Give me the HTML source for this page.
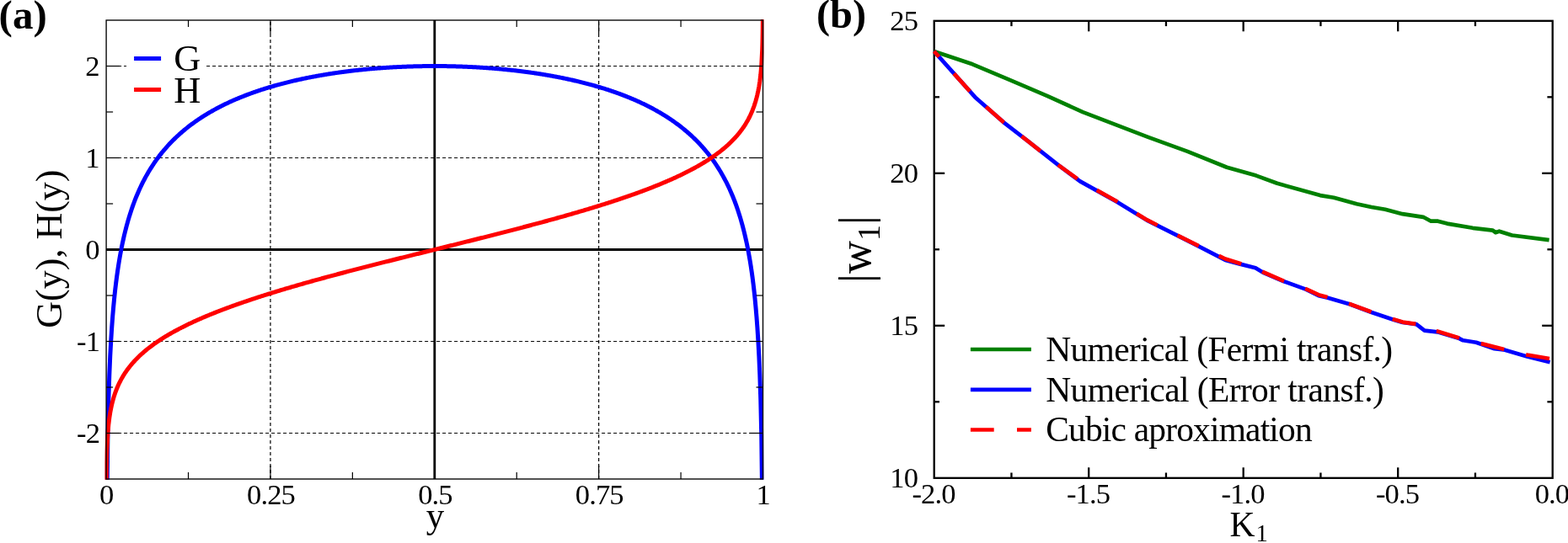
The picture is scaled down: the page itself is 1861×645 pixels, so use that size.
<!DOCTYPE html>
<html><head><meta charset="utf-8"><title>Figure</title>
<style>html,body{margin:0;padding:0;background:#fff;overflow:hidden}body{width:1861px;height:645px}</style>
</head><body>
<svg width="1861" height="645" viewBox="0 0 1861 645" style="display:block" font-family='"Liberation Serif", serif'>
<rect x="0" y="0" width="1861" height="645" fill="#fff"/>
<defs>
<clipPath id="cl"><rect x="124.50" y="23.00" width="782.00" height="546.80"/></clipPath>
</defs>
<g stroke="#000" stroke-width="1.2" stroke-dasharray="4 3" fill="none">
<line x1="320.95" y1="569.0" x2="320.95" y2="24.0"/>
<line x1="710.65" y1="569.0" x2="710.65" y2="24.0"/>
<line x1="126.1" y1="514.50" x2="905.5" y2="514.50"/>
<line x1="126.1" y1="405.50" x2="905.5" y2="405.50"/>
<line x1="126.1" y1="187.50" x2="905.5" y2="187.50"/>
<line x1="126.1" y1="78.50" x2="905.5" y2="78.50"/>
</g>
<g stroke="#000" stroke-width="2.8" fill="none">
<line x1="515.80" y1="24.0" x2="515.80" y2="569.0"/>
<line x1="126.1" y1="296.50" x2="905.5" y2="296.50"/>
</g>
<rect x="150" y="50" width="95" height="76" fill="#fff"/>
<g clip-path="url(#cl)" fill="none" stroke-width="5" stroke-linejoin="round">
<path d="M126.10,732.50 L126.11,732.50 L126.12,732.50 L126.13,732.50 L126.14,732.50 L126.15,732.50 L126.16,732.50 L126.18,732.50 L126.19,732.50 L126.21,732.50 L126.24,732.50 L126.27,732.50 L126.30,732.50 L126.34,715.93 L126.40,696.33 L126.46,676.76 L126.54,657.24 L126.63,637.76 L126.74,618.33 L126.88,598.95 L127.85,518.37 L128.83,474.93 L129.80,445.14 L130.77,422.50 L131.75,404.27 L132.72,389.02 L133.69,375.92 L134.67,364.46 L135.64,354.27 L136.61,345.11 L137.59,336.80 L138.56,329.18 L139.54,322.17 L140.51,315.66 L141.48,309.60 L142.46,303.93 L143.43,298.61 L144.40,293.59 L145.38,288.84 L146.35,284.35 L147.32,280.07 L148.30,276.00 L149.27,272.11 L150.24,268.39 L151.22,264.83 L152.19,261.41 L153.16,258.13 L154.14,254.97 L155.11,251.93 L156.08,248.99 L157.06,246.16 L158.03,243.42 L159.01,240.76 L159.98,238.20 L160.95,235.71 L161.93,233.29 L162.90,230.95 L163.87,228.67 L164.85,226.45 L165.82,224.30 L166.79,222.20 L167.77,220.15 L168.74,218.16 L169.71,216.22 L170.69,214.32 L171.66,212.47 L172.63,210.66 L173.61,208.90 L174.58,207.17 L175.56,205.48 L176.53,203.83 L177.50,202.21 L178.48,200.63 L179.45,199.08 L180.42,197.56 L181.40,196.07 L182.37,194.61 L183.34,193.18 L184.32,191.78 L185.29,190.40 L186.26,189.05 L187.24,187.72 L188.21,186.41 L189.18,185.13 L190.16,183.87 L191.13,182.64 L192.11,181.42 L193.08,180.23 L194.05,179.05 L195.03,177.89 L196.00,176.76 L196.97,175.64 L197.95,174.53 L198.92,173.45 L199.89,172.38 L200.87,171.33 L201.84,170.29 L202.81,169.27 L203.79,168.27 L204.76,167.28 L205.73,166.30 L206.71,165.34 L207.68,164.39 L208.65,163.45 L209.63,162.53 L210.60,161.62 L211.58,160.72 L212.55,159.84 L213.52,158.97 L214.50,158.10 L215.47,157.25 L216.44,156.41 L217.42,155.59 L218.39,154.77 L219.36,153.96 L220.34,153.16 L221.31,152.38 L222.28,151.60 L223.26,150.83 L224.23,150.07 L225.20,149.32 L226.18,148.58 L227.15,147.85 L228.13,147.13 L229.10,146.41 L230.07,145.71 L231.05,145.01 L232.02,144.32 L232.99,143.64 L233.97,142.96 L234.94,142.29 L235.91,141.63 L236.89,140.98 L237.86,140.34 L238.83,139.70 L239.81,139.07 L240.78,138.45 L241.75,137.83 L242.73,137.22 L243.70,136.62 L244.68,136.02 L245.65,135.43 L246.62,134.84 L247.60,134.26 L248.57,133.69 L249.54,133.12 L250.52,132.56 L251.49,132.01 L252.46,131.46 L253.44,130.91 L254.41,130.37 L255.38,129.84 L256.36,129.31 L257.33,128.79 L258.30,128.27 L259.28,127.76 L260.25,127.25 L261.22,126.75 L262.20,126.25 L263.17,125.76 L264.15,125.27 L265.12,124.79 L266.09,124.31 L267.07,123.84 L268.04,123.37 L269.01,122.90 L269.99,122.44 L270.96,121.99 L271.93,121.53 L272.91,121.09 L273.88,120.64 L274.85,120.20 L275.83,119.77 L276.80,119.33 L277.77,118.91 L278.75,118.48 L279.72,118.06 L280.70,117.65 L281.67,117.23 L282.64,116.83 L283.62,116.42 L284.59,116.02 L285.56,115.62 L286.54,115.23 L287.51,114.84 L288.48,114.45 L289.46,114.07 L290.43,113.69 L291.40,113.31 L292.38,112.94 L293.35,112.56 L294.32,112.20 L295.30,111.83 L296.27,111.47 L297.25,111.12 L298.22,110.76 L299.19,110.41 L300.17,110.06 L301.14,109.72 L302.11,109.37 L303.09,109.03 L304.06,108.70 L305.03,108.36 L306.01,108.03 L306.98,107.70 L307.95,107.38 L308.93,107.06 L309.90,106.74 L310.87,106.42 L311.85,106.11 L312.82,105.79 L313.79,105.49 L314.77,105.18 L315.74,104.88 L316.72,104.57 L317.69,104.28 L318.66,103.98 L319.64,103.69 L320.61,103.40 L321.58,103.11 L322.56,102.82 L323.53,102.54 L324.50,102.26 L325.48,101.98 L326.45,101.70 L327.42,101.43 L328.40,101.15 L329.37,100.88 L330.34,100.62 L331.32,100.35 L332.29,100.09 L333.27,99.83 L334.24,99.57 L335.21,99.31 L336.19,99.06 L337.16,98.81 L338.13,98.56 L339.11,98.31 L340.08,98.06 L341.05,97.82 L342.03,97.58 L343.00,97.34 L343.97,97.10 L344.95,96.87 L345.92,96.63 L346.89,96.40 L347.87,96.17 L348.84,95.94 L349.82,95.72 L350.79,95.49 L351.76,95.27 L352.74,95.05 L353.71,94.83 L354.68,94.62 L355.66,94.40 L356.63,94.19 L357.60,93.98 L358.58,93.77 L359.55,93.57 L360.52,93.36 L361.50,93.16 L362.47,92.96 L363.44,92.76 L364.42,92.56 L365.39,92.36 L366.36,92.17 L367.34,91.97 L368.31,91.78 L369.29,91.59 L370.26,91.41 L371.23,91.22 L372.21,91.03 L373.18,90.85 L374.15,90.67 L375.13,90.49 L376.10,90.31 L377.07,90.14 L378.05,89.96 L379.02,89.79 L379.99,89.62 L380.97,89.45 L381.94,89.28 L382.91,89.11 L383.89,88.95 L384.86,88.78 L385.84,88.62 L386.81,88.46 L387.78,88.30 L388.76,88.14 L389.73,87.99 L390.70,87.83 L391.68,87.68 L392.65,87.53 L393.62,87.38 L394.60,87.23 L395.57,87.08 L396.54,86.94 L397.52,86.79 L398.49,86.65 L399.46,86.51 L400.44,86.37 L401.41,86.23 L402.39,86.09 L403.36,85.96 L404.33,85.82 L405.31,85.69 L406.28,85.56 L407.25,85.43 L408.23,85.30 L409.20,85.17 L410.17,85.04 L411.15,84.92 L412.12,84.80 L413.09,84.67 L414.07,84.55 L415.04,84.43 L416.01,84.31 L416.99,84.20 L417.96,84.08 L418.93,83.97 L419.91,83.85 L420.88,83.74 L421.86,83.63 L422.83,83.52 L423.80,83.42 L424.78,83.31 L425.75,83.20 L426.72,83.10 L427.70,83.00 L428.67,82.90 L429.64,82.80 L430.62,82.70 L431.59,82.60 L432.56,82.50 L433.54,82.41 L434.51,82.31 L435.48,82.22 L436.46,82.13 L437.43,82.04 L438.41,81.95 L439.38,81.86 L440.35,81.77 L441.33,81.69 L442.30,81.60 L443.27,81.52 L444.25,81.44 L445.22,81.36 L446.19,81.28 L447.17,81.20 L448.14,81.12 L449.11,81.05 L450.09,80.97 L451.06,80.90 L452.03,80.82 L453.01,80.75 L453.98,80.68 L454.96,80.61 L455.93,80.55 L456.90,80.48 L457.88,80.41 L458.85,80.35 L459.82,80.29 L460.80,80.22 L461.77,80.16 L462.74,80.10 L463.72,80.04 L464.69,79.99 L465.66,79.93 L466.64,79.87 L467.61,79.82 L468.58,79.77 L469.56,79.71 L470.53,79.66 L471.50,79.61 L472.48,79.56 L473.45,79.52 L474.43,79.47 L475.40,79.43 L476.37,79.38 L477.35,79.34 L478.32,79.30 L479.29,79.25 L480.27,79.21 L481.24,79.18 L482.21,79.14 L483.19,79.10 L484.16,79.07 L485.13,79.03 L486.11,79.00 L487.08,78.97 L488.05,78.94 L489.03,78.91 L490.00,78.88 L490.98,78.85 L491.95,78.82 L492.92,78.80 L493.90,78.77 L494.87,78.75 L495.84,78.72 L496.82,78.70 L497.79,78.68 L498.76,78.66 L499.74,78.65 L500.71,78.63 L501.68,78.61 L502.66,78.60 L503.63,78.58 L504.60,78.57 L505.58,78.56 L506.55,78.55 L507.53,78.54 L508.50,78.53 L509.47,78.52 L510.45,78.52 L511.42,78.51 L512.39,78.51 L513.37,78.50 L514.34,78.50 L515.31,78.50 L516.29,78.50 L517.26,78.50 L518.23,78.50 L519.21,78.51 L520.18,78.51 L521.15,78.52 L522.13,78.52 L523.10,78.53 L524.07,78.54 L525.05,78.55 L526.02,78.56 L527.00,78.57 L527.97,78.58 L528.94,78.60 L529.92,78.61 L530.89,78.63 L531.86,78.65 L532.84,78.66 L533.81,78.68 L534.78,78.70 L535.76,78.72 L536.73,78.75 L537.70,78.77 L538.68,78.80 L539.65,78.82 L540.62,78.85 L541.60,78.88 L542.57,78.91 L543.55,78.94 L544.52,78.97 L545.49,79.00 L546.47,79.03 L547.44,79.07 L548.41,79.10 L549.39,79.14 L550.36,79.18 L551.33,79.21 L552.31,79.25 L553.28,79.30 L554.25,79.34 L555.23,79.38 L556.20,79.43 L557.17,79.47 L558.15,79.52 L559.12,79.56 L560.10,79.61 L561.07,79.66 L562.04,79.71 L563.02,79.77 L563.99,79.82 L564.96,79.87 L565.94,79.93 L566.91,79.99 L567.88,80.04 L568.86,80.10 L569.83,80.16 L570.80,80.22 L571.78,80.29 L572.75,80.35 L573.72,80.41 L574.70,80.48 L575.67,80.55 L576.64,80.61 L577.62,80.68 L578.59,80.75 L579.57,80.82 L580.54,80.90 L581.51,80.97 L582.49,81.05 L583.46,81.12 L584.43,81.20 L585.41,81.28 L586.38,81.36 L587.35,81.44 L588.33,81.52 L589.30,81.60 L590.27,81.69 L591.25,81.77 L592.22,81.86 L593.19,81.95 L594.17,82.04 L595.14,82.13 L596.12,82.22 L597.09,82.31 L598.06,82.41 L599.04,82.50 L600.01,82.60 L600.98,82.70 L601.96,82.80 L602.93,82.90 L603.90,83.00 L604.88,83.10 L605.85,83.20 L606.82,83.31 L607.80,83.42 L608.77,83.52 L609.74,83.63 L610.72,83.74 L611.69,83.85 L612.67,83.97 L613.64,84.08 L614.61,84.20 L615.59,84.31 L616.56,84.43 L617.53,84.55 L618.51,84.67 L619.48,84.80 L620.45,84.92 L621.43,85.04 L622.40,85.17 L623.37,85.30 L624.35,85.43 L625.32,85.56 L626.29,85.69 L627.27,85.82 L628.24,85.96 L629.21,86.09 L630.19,86.23 L631.16,86.37 L632.14,86.51 L633.11,86.65 L634.08,86.79 L635.06,86.94 L636.03,87.08 L637.00,87.23 L637.98,87.38 L638.95,87.53 L639.92,87.68 L640.90,87.83 L641.87,87.99 L642.84,88.14 L643.82,88.30 L644.79,88.46 L645.76,88.62 L646.74,88.78 L647.71,88.95 L648.69,89.11 L649.66,89.28 L650.63,89.45 L651.61,89.62 L652.58,89.79 L653.55,89.96 L654.53,90.14 L655.50,90.31 L656.47,90.49 L657.45,90.67 L658.42,90.85 L659.39,91.03 L660.37,91.22 L661.34,91.41 L662.31,91.59 L663.29,91.78 L664.26,91.97 L665.24,92.17 L666.21,92.36 L667.18,92.56 L668.16,92.76 L669.13,92.96 L670.10,93.16 L671.08,93.36 L672.05,93.57 L673.02,93.77 L674.00,93.98 L674.97,94.19 L675.94,94.40 L676.92,94.62 L677.89,94.83 L678.86,95.05 L679.84,95.27 L680.81,95.49 L681.78,95.72 L682.76,95.94 L683.73,96.17 L684.71,96.40 L685.68,96.63 L686.65,96.87 L687.63,97.10 L688.60,97.34 L689.57,97.58 L690.55,97.82 L691.52,98.06 L692.49,98.31 L693.47,98.56 L694.44,98.81 L695.41,99.06 L696.39,99.31 L697.36,99.57 L698.33,99.83 L699.31,100.09 L700.28,100.35 L701.26,100.62 L702.23,100.88 L703.20,101.15 L704.18,101.43 L705.15,101.70 L706.12,101.98 L707.10,102.26 L708.07,102.54 L709.04,102.82 L710.02,103.11 L710.99,103.40 L711.96,103.69 L712.94,103.98 L713.91,104.28 L714.88,104.57 L715.86,104.88 L716.83,105.18 L717.81,105.49 L718.78,105.79 L719.75,106.11 L720.73,106.42 L721.70,106.74 L722.67,107.06 L723.65,107.38 L724.62,107.70 L725.59,108.03 L726.57,108.36 L727.54,108.70 L728.51,109.03 L729.49,109.37 L730.46,109.72 L731.43,110.06 L732.41,110.41 L733.38,110.76 L734.35,111.12 L735.33,111.47 L736.30,111.83 L737.28,112.20 L738.25,112.56 L739.22,112.94 L740.20,113.31 L741.17,113.69 L742.14,114.07 L743.12,114.45 L744.09,114.84 L745.06,115.23 L746.04,115.62 L747.01,116.02 L747.98,116.42 L748.96,116.83 L749.93,117.23 L750.90,117.65 L751.88,118.06 L752.85,118.48 L753.83,118.91 L754.80,119.33 L755.77,119.77 L756.75,120.20 L757.72,120.64 L758.69,121.09 L759.67,121.53 L760.64,121.99 L761.61,122.44 L762.59,122.90 L763.56,123.37 L764.53,123.84 L765.51,124.31 L766.48,124.79 L767.45,125.27 L768.43,125.76 L769.40,126.25 L770.38,126.75 L771.35,127.25 L772.32,127.76 L773.30,128.27 L774.27,128.79 L775.24,129.31 L776.22,129.84 L777.19,130.37 L778.16,130.91 L779.14,131.46 L780.11,132.01 L781.08,132.56 L782.06,133.12 L783.03,133.69 L784.00,134.26 L784.98,134.84 L785.95,135.43 L786.92,136.02 L787.90,136.62 L788.87,137.22 L789.85,137.83 L790.82,138.45 L791.79,139.07 L792.77,139.70 L793.74,140.34 L794.71,140.98 L795.69,141.63 L796.66,142.29 L797.63,142.96 L798.61,143.64 L799.58,144.32 L800.55,145.01 L801.53,145.71 L802.50,146.41 L803.47,147.13 L804.45,147.85 L805.42,148.58 L806.40,149.32 L807.37,150.07 L808.34,150.83 L809.32,151.60 L810.29,152.38 L811.26,153.16 L812.24,153.96 L813.21,154.77 L814.18,155.59 L815.16,156.41 L816.13,157.25 L817.10,158.10 L818.08,158.97 L819.05,159.84 L820.02,160.72 L821.00,161.62 L821.97,162.53 L822.95,163.45 L823.92,164.39 L824.89,165.34 L825.87,166.30 L826.84,167.28 L827.81,168.27 L828.79,169.27 L829.76,170.29 L830.73,171.33 L831.71,172.38 L832.68,173.45 L833.65,174.53 L834.63,175.64 L835.60,176.76 L836.57,177.89 L837.55,179.05 L838.52,180.23 L839.49,181.42 L840.47,182.64 L841.44,183.87 L842.42,185.13 L843.39,186.41 L844.36,187.72 L845.34,189.05 L846.31,190.40 L847.28,191.78 L848.26,193.18 L849.23,194.61 L850.20,196.07 L851.18,197.56 L852.15,199.08 L853.12,200.63 L854.10,202.21 L855.07,203.83 L856.04,205.48 L857.02,207.17 L857.99,208.90 L858.97,210.66 L859.94,212.47 L860.91,214.32 L861.89,216.22 L862.86,218.16 L863.83,220.15 L864.81,222.20 L865.78,224.30 L866.75,226.45 L867.73,228.67 L868.70,230.95 L869.67,233.29 L870.65,235.71 L871.62,238.20 L872.59,240.76 L873.57,243.42 L874.54,246.16 L875.52,248.99 L876.49,251.93 L877.46,254.97 L878.44,258.13 L879.41,261.41 L880.38,264.83 L881.36,268.39 L882.33,272.11 L883.30,276.00 L884.28,280.07 L885.25,284.35 L886.22,288.84 L887.20,293.59 L888.17,298.61 L889.14,303.93 L890.12,309.60 L891.09,315.66 L892.06,322.17 L893.04,329.18 L894.01,336.80 L894.99,345.11 L895.96,354.27 L896.93,364.46 L897.91,375.92 L898.88,389.02 L899.85,404.27 L900.83,422.50 L901.80,445.14 L902.77,474.93 L903.75,518.37 L904.72,598.95 L904.86,618.33 L904.97,637.76 L905.06,657.24 L905.14,676.76 L905.20,696.33 L905.26,715.93 L905.30,732.50 L905.33,732.50 L905.36,732.50 L905.39,732.50 L905.41,732.50 L905.42,732.50 L905.44,732.50 L905.45,732.50 L905.46,732.50 L905.47,732.50 L905.48,732.50 L905.49,732.50 L905.50,732.50" stroke="#0000ff"/>
<path d="M126.10,732.50 L126.10,730.33 L126.10,727.75 L126.10,725.16 L126.10,722.55 L126.10,719.92 L126.10,717.28 L126.10,714.63 L126.10,711.95 L126.10,709.27 L126.10,706.56 L126.10,703.84 L126.10,701.10 L126.10,698.34 L126.10,695.57 L126.10,692.78 L126.10,689.97 L126.10,687.14 L126.10,684.29 L126.10,681.42 L126.10,678.53 L126.10,675.62 L126.10,672.69 L126.10,669.74 L126.10,666.77 L126.10,663.77 L126.10,660.75 L126.10,657.71 L126.10,654.65 L126.10,651.56 L126.10,648.44 L126.10,645.30 L126.10,642.13 L126.10,638.94 L126.10,635.72 L126.11,632.47 L126.11,629.19 L126.11,625.88 L126.11,622.54 L126.11,619.17 L126.11,615.77 L126.12,612.33 L126.12,608.86 L126.12,605.36 L126.13,601.81 L126.14,598.23 L126.14,594.62 L126.15,590.96 L126.16,587.26 L126.18,583.52 L126.19,579.73 L126.21,575.90 L126.24,572.02 L126.27,568.10 L126.30,564.12 L126.34,560.09 L126.40,556.01 L126.46,551.86 L126.54,547.66 L126.63,543.40 L126.74,539.07 L126.88,534.68 L127.85,515.46 L128.83,504.37 L129.80,496.41 L130.77,490.14 L131.75,484.94 L132.72,480.47 L133.69,476.55 L134.67,473.05 L135.64,469.88 L136.61,466.97 L137.59,464.29 L138.56,461.80 L139.54,459.47 L140.51,457.28 L141.48,455.21 L142.46,453.26 L143.43,451.39 L144.40,449.62 L145.38,447.92 L146.35,446.29 L147.32,444.73 L148.30,443.22 L149.27,441.77 L150.24,440.37 L151.22,439.01 L152.19,437.70 L153.16,436.43 L154.14,435.19 L155.11,433.99 L156.08,432.82 L157.06,431.68 L158.03,430.57 L159.01,429.49 L159.98,428.44 L160.95,427.40 L161.93,426.39 L162.90,425.41 L163.87,424.44 L164.85,423.49 L165.82,422.56 L166.79,421.65 L167.77,420.76 L168.74,419.88 L169.71,419.02 L170.69,418.17 L171.66,417.34 L172.63,416.52 L173.61,415.72 L174.58,414.93 L175.56,414.15 L176.53,413.38 L177.50,412.62 L178.48,411.88 L179.45,411.14 L180.42,410.42 L181.40,409.71 L182.37,409.00 L183.34,408.30 L184.32,407.62 L185.29,406.94 L186.26,406.27 L187.24,405.61 L188.21,404.96 L189.18,404.31 L190.16,403.67 L191.13,403.04 L192.11,402.42 L193.08,401.80 L194.05,401.19 L195.03,400.59 L196.00,399.99 L196.97,399.40 L197.95,398.81 L198.92,398.23 L199.89,397.66 L200.87,397.09 L201.84,396.53 L202.81,395.97 L203.79,395.42 L204.76,394.87 L205.73,394.33 L206.71,393.79 L207.68,393.26 L208.65,392.73 L209.63,392.21 L210.60,391.69 L211.58,391.17 L212.55,390.66 L213.52,390.15 L214.50,389.65 L215.47,389.15 L216.44,388.66 L217.42,388.16 L218.39,387.68 L219.36,387.19 L220.34,386.71 L221.31,386.24 L222.28,385.76 L223.26,385.29 L224.23,384.82 L225.20,384.36 L226.18,383.90 L227.15,383.44 L228.13,382.99 L229.10,382.54 L230.07,382.09 L231.05,381.64 L232.02,381.20 L232.99,380.76 L233.97,380.32 L234.94,379.89 L235.91,379.46 L236.89,379.03 L237.86,378.60 L238.83,378.18 L239.81,377.75 L240.78,377.33 L241.75,376.92 L242.73,376.50 L243.70,376.09 L244.68,375.68 L245.65,375.27 L246.62,374.87 L247.60,374.46 L248.57,374.06 L249.54,373.66 L250.52,373.26 L251.49,372.87 L252.46,372.48 L253.44,372.08 L254.41,371.70 L255.38,371.31 L256.36,370.92 L257.33,370.54 L258.30,370.16 L259.28,369.78 L260.25,369.40 L261.22,369.02 L262.20,368.65 L263.17,368.27 L264.15,367.90 L265.12,367.53 L266.09,367.16 L267.07,366.80 L268.04,366.43 L269.01,366.07 L269.99,365.71 L270.96,365.35 L271.93,364.99 L272.91,364.63 L273.88,364.27 L274.85,363.92 L275.83,363.57 L276.80,363.22 L277.77,362.87 L278.75,362.52 L279.72,362.17 L280.70,361.82 L281.67,361.48 L282.64,361.13 L283.62,360.79 L284.59,360.45 L285.56,360.11 L286.54,359.77 L287.51,359.43 L288.48,359.10 L289.46,358.76 L290.43,358.43 L291.40,358.10 L292.38,357.77 L293.35,357.44 L294.32,357.11 L295.30,356.78 L296.27,356.45 L297.25,356.12 L298.22,355.80 L299.19,355.48 L300.17,355.15 L301.14,354.83 L302.11,354.51 L303.09,354.19 L304.06,353.87 L305.03,353.55 L306.01,353.24 L306.98,352.92 L307.95,352.61 L308.93,352.29 L309.90,351.98 L310.87,351.67 L311.85,351.35 L312.82,351.04 L313.79,350.73 L314.77,350.43 L315.74,350.12 L316.72,349.81 L317.69,349.51 L318.66,349.20 L319.64,348.90 L320.61,348.59 L321.58,348.29 L322.56,347.99 L323.53,347.69 L324.50,347.39 L325.48,347.09 L326.45,346.79 L327.42,346.49 L328.40,346.19 L329.37,345.89 L330.34,345.60 L331.32,345.30 L332.29,345.01 L333.27,344.71 L334.24,344.42 L335.21,344.13 L336.19,343.84 L337.16,343.55 L338.13,343.26 L339.11,342.97 L340.08,342.68 L341.05,342.39 L342.03,342.10 L343.00,341.81 L343.97,341.53 L344.95,341.24 L345.92,340.96 L346.89,340.67 L347.87,340.39 L348.84,340.10 L349.82,339.82 L350.79,339.54 L351.76,339.26 L352.74,338.98 L353.71,338.70 L354.68,338.42 L355.66,338.14 L356.63,337.86 L357.60,337.58 L358.58,337.30 L359.55,337.02 L360.52,336.75 L361.50,336.47 L362.47,336.19 L363.44,335.92 L364.42,335.64 L365.39,335.37 L366.36,335.10 L367.34,334.82 L368.31,334.55 L369.29,334.28 L370.26,334.01 L371.23,333.73 L372.21,333.46 L373.18,333.19 L374.15,332.92 L375.13,332.65 L376.10,332.38 L377.07,332.12 L378.05,331.85 L379.02,331.58 L379.99,331.31 L380.97,331.04 L381.94,330.78 L382.91,330.51 L383.89,330.25 L384.86,329.98 L385.84,329.72 L386.81,329.45 L387.78,329.19 L388.76,328.92 L389.73,328.66 L390.70,328.40 L391.68,328.13 L392.65,327.87 L393.62,327.61 L394.60,327.35 L395.57,327.09 L396.54,326.83 L397.52,326.57 L398.49,326.30 L399.46,326.05 L400.44,325.79 L401.41,325.53 L402.39,325.27 L403.36,325.01 L404.33,324.75 L405.31,324.49 L406.28,324.24 L407.25,323.98 L408.23,323.72 L409.20,323.46 L410.17,323.21 L411.15,322.95 L412.12,322.70 L413.09,322.44 L414.07,322.19 L415.04,321.93 L416.01,321.68 L416.99,321.42 L417.96,321.17 L418.93,320.91 L419.91,320.66 L420.88,320.41 L421.86,320.15 L422.83,319.90 L423.80,319.65 L424.78,319.40 L425.75,319.14 L426.72,318.89 L427.70,318.64 L428.67,318.39 L429.64,318.14 L430.62,317.89 L431.59,317.64 L432.56,317.39 L433.54,317.14 L434.51,316.89 L435.48,316.64 L436.46,316.39 L437.43,316.14 L438.41,315.89 L439.38,315.64 L440.35,315.39 L441.33,315.14 L442.30,314.89 L443.27,314.64 L444.25,314.40 L445.22,314.15 L446.19,313.90 L447.17,313.65 L448.14,313.41 L449.11,313.16 L450.09,312.91 L451.06,312.67 L452.03,312.42 L453.01,312.17 L453.98,311.93 L454.96,311.68 L455.93,311.43 L456.90,311.19 L457.88,310.94 L458.85,310.70 L459.82,310.45 L460.80,310.21 L461.77,309.96 L462.74,309.72 L463.72,309.47 L464.69,309.23 L465.66,308.98 L466.64,308.74 L467.61,308.49 L468.58,308.25 L469.56,308.01 L470.53,307.76 L471.50,307.52 L472.48,307.27 L473.45,307.03 L474.43,306.79 L475.40,306.54 L476.37,306.30 L477.35,306.06 L478.32,305.81 L479.29,305.57 L480.27,305.33 L481.24,305.08 L482.21,304.84 L483.19,304.60 L484.16,304.36 L485.13,304.11 L486.11,303.87 L487.08,303.63 L488.05,303.39 L489.03,303.14 L490.00,302.90 L490.98,302.66 L491.95,302.42 L492.92,302.18 L493.90,301.93 L494.87,301.69 L495.84,301.45 L496.82,301.21 L497.79,300.97 L498.76,300.73 L499.74,300.48 L500.71,300.24 L501.68,300.00 L502.66,299.76 L503.63,299.52 L504.60,299.28 L505.58,299.03 L506.55,298.79 L507.53,298.55 L508.50,298.31 L509.47,298.07 L510.45,297.83 L511.42,297.59 L512.39,297.34 L513.37,297.10 L514.34,296.86 L515.31,296.62 L516.29,296.38 L517.26,296.14 L518.23,295.90 L519.21,295.66 L520.18,295.41 L521.15,295.17 L522.13,294.93 L523.10,294.69 L524.07,294.45 L525.05,294.21 L526.02,293.97 L527.00,293.72 L527.97,293.48 L528.94,293.24 L529.92,293.00 L530.89,292.76 L531.86,292.52 L532.84,292.27 L533.81,292.03 L534.78,291.79 L535.76,291.55 L536.73,291.31 L537.70,291.07 L538.68,290.82 L539.65,290.58 L540.62,290.34 L541.60,290.10 L542.57,289.86 L543.55,289.61 L544.52,289.37 L545.49,289.13 L546.47,288.89 L547.44,288.64 L548.41,288.40 L549.39,288.16 L550.36,287.92 L551.33,287.67 L552.31,287.43 L553.28,287.19 L554.25,286.94 L555.23,286.70 L556.20,286.46 L557.17,286.21 L558.15,285.97 L559.12,285.73 L560.10,285.48 L561.07,285.24 L562.04,284.99 L563.02,284.75 L563.99,284.51 L564.96,284.26 L565.94,284.02 L566.91,283.77 L567.88,283.53 L568.86,283.28 L569.83,283.04 L570.80,282.79 L571.78,282.55 L572.75,282.30 L573.72,282.06 L574.70,281.81 L575.67,281.57 L576.64,281.32 L577.62,281.07 L578.59,280.83 L579.57,280.58 L580.54,280.33 L581.51,280.09 L582.49,279.84 L583.46,279.59 L584.43,279.35 L585.41,279.10 L586.38,278.85 L587.35,278.60 L588.33,278.36 L589.30,278.11 L590.27,277.86 L591.25,277.61 L592.22,277.36 L593.19,277.11 L594.17,276.86 L595.14,276.61 L596.12,276.36 L597.09,276.11 L598.06,275.86 L599.04,275.61 L600.01,275.36 L600.98,275.11 L601.96,274.86 L602.93,274.61 L603.90,274.36 L604.88,274.11 L605.85,273.86 L606.82,273.60 L607.80,273.35 L608.77,273.10 L609.74,272.85 L610.72,272.59 L611.69,272.34 L612.67,272.09 L613.64,271.83 L614.61,271.58 L615.59,271.32 L616.56,271.07 L617.53,270.81 L618.51,270.56 L619.48,270.30 L620.45,270.05 L621.43,269.79 L622.40,269.54 L623.37,269.28 L624.35,269.02 L625.32,268.76 L626.29,268.51 L627.27,268.25 L628.24,267.99 L629.21,267.73 L630.19,267.47 L631.16,267.21 L632.14,266.95 L633.11,266.70 L634.08,266.43 L635.06,266.17 L636.03,265.91 L637.00,265.65 L637.98,265.39 L638.95,265.13 L639.92,264.87 L640.90,264.60 L641.87,264.34 L642.84,264.08 L643.82,263.81 L644.79,263.55 L645.76,263.28 L646.74,263.02 L647.71,262.75 L648.69,262.49 L649.66,262.22 L650.63,261.96 L651.61,261.69 L652.58,261.42 L653.55,261.15 L654.53,260.88 L655.50,260.62 L656.47,260.35 L657.45,260.08 L658.42,259.81 L659.39,259.54 L660.37,259.27 L661.34,258.99 L662.31,258.72 L663.29,258.45 L664.26,258.18 L665.24,257.90 L666.21,257.63 L667.18,257.36 L668.16,257.08 L669.13,256.81 L670.10,256.53 L671.08,256.25 L672.05,255.98 L673.02,255.70 L674.00,255.42 L674.97,255.14 L675.94,254.86 L676.92,254.58 L677.89,254.30 L678.86,254.02 L679.84,253.74 L680.81,253.46 L681.78,253.18 L682.76,252.90 L683.73,252.61 L684.71,252.33 L685.68,252.04 L686.65,251.76 L687.63,251.47 L688.60,251.19 L689.57,250.90 L690.55,250.61 L691.52,250.32 L692.49,250.03 L693.47,249.74 L694.44,249.45 L695.41,249.16 L696.39,248.87 L697.36,248.58 L698.33,248.29 L699.31,247.99 L700.28,247.70 L701.26,247.40 L702.23,247.11 L703.20,246.81 L704.18,246.51 L705.15,246.21 L706.12,245.91 L707.10,245.61 L708.07,245.31 L709.04,245.01 L710.02,244.71 L710.99,244.41 L711.96,244.10 L712.94,243.80 L713.91,243.49 L714.88,243.19 L715.86,242.88 L716.83,242.57 L717.81,242.27 L718.78,241.96 L719.75,241.65 L720.73,241.33 L721.70,241.02 L722.67,240.71 L723.65,240.39 L724.62,240.08 L725.59,239.76 L726.57,239.45 L727.54,239.13 L728.51,238.81 L729.49,238.49 L730.46,238.17 L731.43,237.85 L732.41,237.52 L733.38,237.20 L734.35,236.88 L735.33,236.55 L736.30,236.22 L737.28,235.89 L738.25,235.56 L739.22,235.23 L740.20,234.90 L741.17,234.57 L742.14,234.24 L743.12,233.90 L744.09,233.57 L745.06,233.23 L746.04,232.89 L747.01,232.55 L747.98,232.21 L748.96,231.87 L749.93,231.52 L750.90,231.18 L751.88,230.83 L752.85,230.48 L753.83,230.13 L754.80,229.78 L755.77,229.43 L756.75,229.08 L757.72,228.73 L758.69,228.37 L759.67,228.01 L760.64,227.65 L761.61,227.29 L762.59,226.93 L763.56,226.57 L764.53,226.20 L765.51,225.84 L766.48,225.47 L767.45,225.10 L768.43,224.73 L769.40,224.35 L770.38,223.98 L771.35,223.60 L772.32,223.22 L773.30,222.84 L774.27,222.46 L775.24,222.08 L776.22,221.69 L777.19,221.30 L778.16,220.92 L779.14,220.52 L780.11,220.13 L781.08,219.74 L782.06,219.34 L783.03,218.94 L784.00,218.54 L784.98,218.13 L785.95,217.73 L786.92,217.32 L787.90,216.91 L788.87,216.50 L789.85,216.08 L790.82,215.67 L791.79,215.25 L792.77,214.82 L793.74,214.40 L794.71,213.97 L795.69,213.54 L796.66,213.11 L797.63,212.68 L798.61,212.24 L799.58,211.80 L800.55,211.36 L801.53,210.91 L802.50,210.46 L803.47,210.01 L804.45,209.56 L805.42,209.10 L806.40,208.64 L807.37,208.18 L808.34,207.71 L809.32,207.24 L810.29,206.76 L811.26,206.29 L812.24,205.81 L813.21,205.32 L814.18,204.84 L815.16,204.34 L816.13,203.85 L817.10,203.35 L818.08,202.85 L819.05,202.34 L820.02,201.83 L821.00,201.31 L821.97,200.79 L822.95,200.27 L823.92,199.74 L824.89,199.21 L825.87,198.67 L826.84,198.13 L827.81,197.58 L828.79,197.03 L829.76,196.47 L830.73,195.91 L831.71,195.34 L832.68,194.77 L833.65,194.19 L834.63,193.60 L835.60,193.01 L836.57,192.41 L837.55,191.81 L838.52,191.20 L839.49,190.58 L840.47,189.96 L841.44,189.33 L842.42,188.69 L843.39,188.04 L844.36,187.39 L845.34,186.73 L846.31,186.06 L847.28,185.38 L848.26,184.70 L849.23,184.00 L850.20,183.29 L851.18,182.58 L852.15,181.86 L853.12,181.12 L854.10,180.38 L855.07,179.62 L856.04,178.85 L857.02,178.07 L857.99,177.28 L858.97,176.48 L859.94,175.66 L860.91,174.83 L861.89,173.98 L862.86,173.12 L863.83,172.24 L864.81,171.35 L865.78,170.44 L866.75,169.51 L867.73,168.56 L868.70,167.59 L869.67,166.61 L870.65,165.60 L871.62,164.56 L872.59,163.51 L873.57,162.43 L874.54,161.32 L875.52,160.18 L876.49,159.01 L877.46,157.81 L878.44,156.57 L879.41,155.30 L880.38,153.99 L881.36,152.63 L882.33,151.23 L883.30,149.78 L884.28,148.27 L885.25,146.71 L886.22,145.08 L887.20,143.38 L888.17,141.61 L889.14,139.74 L890.12,137.79 L891.09,135.72 L892.06,133.53 L893.04,131.20 L894.01,128.71 L894.99,126.03 L895.96,123.12 L896.93,119.95 L897.91,116.45 L898.88,112.53 L899.85,108.06 L900.83,102.86 L901.80,96.59 L902.77,88.63 L903.75,77.54 L904.72,58.32 L904.86,53.93 L904.97,49.60 L905.06,45.34 L905.14,41.14 L905.20,36.99 L905.26,32.91 L905.30,28.88 L905.33,24.90 L905.36,20.98 L905.39,17.10 L905.41,13.27 L905.42,9.48 L905.44,5.74 L905.45,2.04 L905.46,-1.62 L905.46,-5.23 L905.47,-8.81 L905.48,-12.36 L905.48,-15.86 L905.48,-19.33 L905.49,-22.77 L905.49,-26.17 L905.49,-29.54 L905.49,-32.88 L905.49,-36.19 L905.49,-39.47 L905.50,-42.72 L905.50,-45.94 L905.50,-49.13 L905.50,-52.30 L905.50,-55.44 L905.50,-58.56 L905.50,-61.65 L905.50,-64.71 L905.50,-67.75 L905.50,-70.77 L905.50,-73.77 L905.50,-76.74 L905.50,-79.69 L905.50,-82.62 L905.50,-85.53 L905.50,-88.42 L905.50,-91.29 L905.50,-94.14 L905.50,-96.97 L905.50,-99.78 L905.50,-102.57 L905.50,-105.34 L905.50,-108.10 L905.50,-110.84 L905.50,-113.56 L905.50,-116.27 L905.50,-118.95 L905.50,-121.63 L905.50,-124.28 L905.50,-126.92 L905.50,-129.55 L905.50,-132.16 L905.50,-134.75 L905.50,-137.33 L905.50,-139.50" stroke="#ff0000"/>
</g>
<g stroke="#000" stroke-width="1.35" fill="none">
<rect x="126.1" y="24.0" width="779.40" height="545.00"/>
</g>
<g stroke="#000" stroke-width="1.2" fill="none">
<line x1="223.52" y1="569.0" x2="223.52" y2="561.0"/>
<line x1="223.52" y1="24.0" x2="223.52" y2="32.0"/>
<line x1="320.95" y1="569.0" x2="320.95" y2="553.0"/>
<line x1="320.95" y1="24.0" x2="320.95" y2="40.0"/>
<line x1="418.38" y1="569.0" x2="418.38" y2="561.0"/>
<line x1="418.38" y1="24.0" x2="418.38" y2="32.0"/>
<line x1="515.80" y1="569.0" x2="515.80" y2="553.0"/>
<line x1="515.80" y1="24.0" x2="515.80" y2="40.0"/>
<line x1="613.23" y1="569.0" x2="613.23" y2="561.0"/>
<line x1="613.23" y1="24.0" x2="613.23" y2="32.0"/>
<line x1="710.65" y1="569.0" x2="710.65" y2="553.0"/>
<line x1="710.65" y1="24.0" x2="710.65" y2="40.0"/>
<line x1="808.08" y1="569.0" x2="808.08" y2="561.0"/>
<line x1="808.08" y1="24.0" x2="808.08" y2="32.0"/>
<line x1="126.1" y1="514.50" x2="142.1" y2="514.50"/>
<line x1="905.5" y1="514.50" x2="889.5" y2="514.50"/>
<line x1="126.1" y1="460.00" x2="134.1" y2="460.00"/>
<line x1="905.5" y1="460.00" x2="897.5" y2="460.00"/>
<line x1="126.1" y1="405.50" x2="142.1" y2="405.50"/>
<line x1="905.5" y1="405.50" x2="889.5" y2="405.50"/>
<line x1="126.1" y1="351.00" x2="134.1" y2="351.00"/>
<line x1="905.5" y1="351.00" x2="897.5" y2="351.00"/>
<line x1="126.1" y1="296.50" x2="142.1" y2="296.50"/>
<line x1="905.5" y1="296.50" x2="889.5" y2="296.50"/>
<line x1="126.1" y1="242.00" x2="134.1" y2="242.00"/>
<line x1="905.5" y1="242.00" x2="897.5" y2="242.00"/>
<line x1="126.1" y1="187.50" x2="142.1" y2="187.50"/>
<line x1="905.5" y1="187.50" x2="889.5" y2="187.50"/>
<line x1="126.1" y1="133.00" x2="134.1" y2="133.00"/>
<line x1="905.5" y1="133.00" x2="897.5" y2="133.00"/>
<line x1="126.1" y1="78.50" x2="142.1" y2="78.50"/>
<line x1="905.5" y1="78.50" x2="889.5" y2="78.50"/>
</g>
<line x1="159.1" y1="69.5" x2="191.1" y2="69.5" stroke="#0000ff" stroke-width="5.2"/>
<line x1="159.1" y1="106.5" x2="191.1" y2="106.5" stroke="#ff0000" stroke-width="5.2"/>
<text transform="translate(206.20 84.40)" font-size="44.5" text-anchor="start">G</text>
<text transform="translate(206.20 121.60)" font-size="44.5" text-anchor="start">H</text>
<text transform="translate(126.70 599.30)" font-size="34.6" text-anchor="middle">0</text>
<text transform="translate(321.55 599.30)" font-size="34.6" text-anchor="middle" letter-spacing="-0.9">0.25</text>
<text transform="translate(516.40 599.30)" font-size="34.6" text-anchor="middle" letter-spacing="-0.9">0.5</text>
<text transform="translate(711.25 599.30)" font-size="34.6" text-anchor="middle" letter-spacing="-0.9">0.75</text>
<text transform="translate(906.10 599.30)" font-size="34.6" text-anchor="middle">1</text>
<text transform="translate(118.10 525.70)" font-size="34.6" text-anchor="end" letter-spacing="-0.9">-2</text>
<text transform="translate(118.10 416.70)" font-size="34.6" text-anchor="end" letter-spacing="-0.9">-1</text>
<text transform="translate(118.60 307.70)" font-size="34.6" text-anchor="end">0</text>
<text transform="translate(118.60 198.70)" font-size="34.6" text-anchor="end">1</text>
<text transform="translate(118.60 89.70)" font-size="34.6" text-anchor="end">2</text>
<text transform="translate(516.50 627.00) scale(0.975 1.0)" font-size="44" text-anchor="middle">y</text>
<text transform="translate(73.10 295.60) rotate(-90)" font-size="44" text-anchor="middle">G(y), H(y)</text>
<text transform="translate(-1.40 33.60)" font-size="49" text-anchor="start" font-weight="bold">(a)</text>
<g stroke="#000" stroke-width="2.3" fill="none">
<rect x="1108.7" y="24.8" width="734.00" height="543.00"/>
<line x1="1200.45" y1="567.8" x2="1200.45" y2="561.5"/>
<line x1="1200.45" y1="24.8" x2="1200.45" y2="31.1"/>
<line x1="1292.20" y1="567.8" x2="1292.20" y2="555.3"/>
<line x1="1292.20" y1="24.8" x2="1292.20" y2="37.3"/>
<line x1="1383.95" y1="567.8" x2="1383.95" y2="561.5"/>
<line x1="1383.95" y1="24.8" x2="1383.95" y2="31.1"/>
<line x1="1475.70" y1="567.8" x2="1475.70" y2="555.3"/>
<line x1="1475.70" y1="24.8" x2="1475.70" y2="37.3"/>
<line x1="1567.45" y1="567.8" x2="1567.45" y2="561.5"/>
<line x1="1567.45" y1="24.8" x2="1567.45" y2="31.1"/>
<line x1="1659.20" y1="567.8" x2="1659.20" y2="555.3"/>
<line x1="1659.20" y1="24.8" x2="1659.20" y2="37.3"/>
<line x1="1750.95" y1="567.8" x2="1750.95" y2="561.5"/>
<line x1="1750.95" y1="24.8" x2="1750.95" y2="31.1"/>
<line x1="1108.7" y1="477.30" x2="1115.0" y2="477.30"/>
<line x1="1842.7" y1="477.30" x2="1836.4" y2="477.30"/>
<line x1="1108.7" y1="386.80" x2="1121.2" y2="386.80"/>
<line x1="1842.7" y1="386.80" x2="1830.2" y2="386.80"/>
<line x1="1108.7" y1="296.30" x2="1115.0" y2="296.30"/>
<line x1="1842.7" y1="296.30" x2="1836.4" y2="296.30"/>
<line x1="1108.7" y1="205.80" x2="1121.2" y2="205.80"/>
<line x1="1842.7" y1="205.80" x2="1830.2" y2="205.80"/>
<line x1="1108.7" y1="115.30" x2="1115.0" y2="115.30"/>
<line x1="1842.7" y1="115.30" x2="1836.4" y2="115.30"/>
</g>
<g fill="none" stroke-width="4.7" stroke-linejoin="round">
<path d="M1108.6,60.9 L1154.3,76.3 L1197.7,94.6 L1243.3,114.1 L1285.1,133.1 L1362.6,162.9 L1409.4,179.9 L1456.1,198.8 L1490.9,208.6 L1515.8,217.8 L1566.9,232.1 L1583.1,234.7 L1610.3,242.3 L1627.7,246.0 L1644.0,248.8 L1664.6,254.2 L1689.2,257.8 L1698.4,262.7 L1706.6,262.7 L1717.5,265.6 L1747.9,270.8 L1771.7,273.6 L1775.0,276.2 L1779.4,274.7 L1794.6,279.5 L1838.6,285.1" stroke="#008000"/>
<path d="M1108.6,60.9 L1157.3,115.4 L1191.2,145.3 L1220.0,167.6 L1255.8,195.8 L1281.9,215.4 L1326.0,239.9 L1361.2,261.6 L1398.1,280.1 L1422.8,292.6 L1454.3,308.9 L1472.7,313.9 L1490.1,318.2 L1498.8,323.6 L1523.8,334.3 L1549.8,343.6 L1565.0,351.2 L1575.9,353.8 L1601.7,361.3 L1627.8,371.0 L1653.8,379.7 L1664.7,383.0 L1681.0,385.1 L1690.7,392.7 L1706.0,394.3 L1732.0,402.1 L1736.4,404.3 L1752.0,406.7 L1773.7,414.2 L1786.1,415.7 L1812.5,423.5 L1839.6,430.2" stroke="#0000ff"/>
<path d="M1108.6,60.9 L1157.3,115.4 L1191.2,145.3 L1220.0,167.6 L1255.8,195.8 L1281.9,214.8 L1326.0,239.5 L1361.2,261.2 L1398.1,279.8 L1422.8,292.2 L1454.3,307.5 L1472.7,313.2 L1490.1,318.2 L1498.8,323.0 L1523.8,333.8 L1549.8,343.2 L1565.0,350.2 L1575.9,353.2 L1601.7,361.0 L1627.8,370.6 L1653.8,379.3 L1664.7,382.6 L1681.0,384.9 L1690.7,391.5 L1706.0,393.6 L1732.0,401.5 L1736.4,403.0 L1759.0,408.4 L1785.3,415.0 L1812.5,421.5 L1839.6,426.1" stroke="#ff0000" stroke-dasharray="28.3 26.64" stroke-dashoffset="19.5"/>
</g>
<g fill="none" stroke-width="4.7">
<line x1="1151.9" y1="415" x2="1223.9" y2="415" stroke="#008000"/>
<line x1="1151.9" y1="462.9" x2="1223.9" y2="462.9" stroke="#0000ff"/>
<line x1="1151.9" y1="510.5" x2="1223.9" y2="510.5" stroke="#ff0000" stroke-dasharray="27.8 27.3"/>
</g>
<text transform="translate(1241.20 429.20)" font-size="41.5" text-anchor="start" letter-spacing="-0.65">Numerical (Fermi transf.)</text>
<text transform="translate(1241.20 476.80)" font-size="41.5" text-anchor="start" letter-spacing="-0.6">Numerical (Error transf.)</text>
<text transform="translate(1241.20 523.90)" font-size="41.5" text-anchor="start" letter-spacing="-0.84">Cubic aproximation</text>
<text transform="translate(1108.00 598.20)" font-size="34.6" text-anchor="middle" letter-spacing="-0.9">-2.0</text>
<text transform="translate(1291.50 598.20)" font-size="34.6" text-anchor="middle" letter-spacing="-0.9">-1.5</text>
<text transform="translate(1475.00 598.20)" font-size="34.6" text-anchor="middle" letter-spacing="-0.9">-1.0</text>
<text transform="translate(1658.50 598.20)" font-size="34.6" text-anchor="middle" letter-spacing="-0.9">-0.5</text>
<text transform="translate(1842.00 598.20)" font-size="34.6" text-anchor="middle" letter-spacing="-0.9">0.0</text>
<text transform="translate(1089.10 578.80)" font-size="34.6" text-anchor="end" letter-spacing="-0.9">10</text>
<text transform="translate(1089.10 397.80)" font-size="34.6" text-anchor="end" letter-spacing="-0.9">15</text>
<text transform="translate(1089.10 216.80)" font-size="34.6" text-anchor="end" letter-spacing="-0.9">20</text>
<text transform="translate(1089.10 35.80)" font-size="34.6" text-anchor="end" letter-spacing="-0.9">25</text>
<text transform="translate(1459.6 636.6) scale(0.975 1)" font-size="42.6">K<tspan font-size="29.5" dy="6.6" dx="1">1</tspan></text>
<text transform="translate(1033.4 296) rotate(-90)" font-size="54" text-anchor="middle">|w<tspan font-size="38.3" dy="10.6">1</tspan><tspan dy="-10.6">|</tspan></text>
<text transform="translate(969.00 33.40)" font-size="48.3" text-anchor="start" font-weight="bold">(b)</text>
</svg>
</body></html>
